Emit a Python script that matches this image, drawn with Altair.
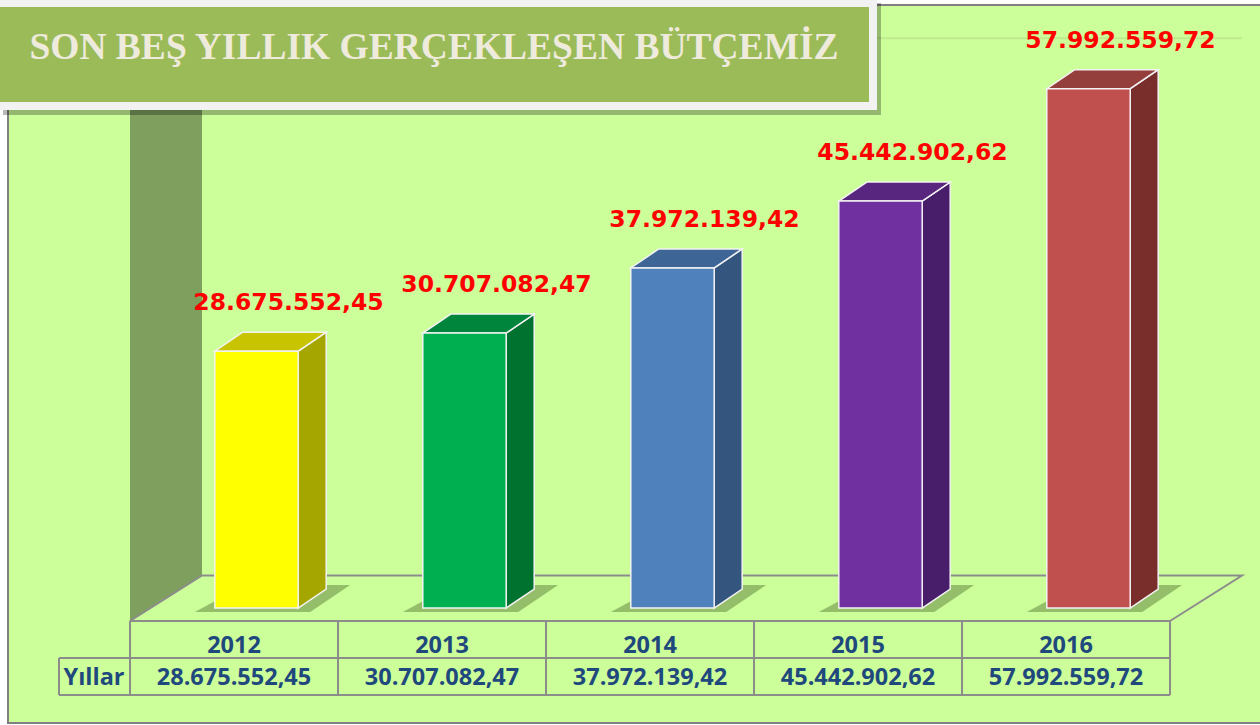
import altair as alt
import pandas as pd

# ---------------- data ----------------
YEARS = ["2012", "2013", "2014", "2015", "2016"]
VALUES = [28675552.45, 30707082.47, 37972139.42, 45442902.62, 57992559.72]
TITLE = "SON BEŞ YILLIK GERÇEKLEŞEN BÜTÇEMİZ"
ROW_LABEL = "Yıllar"
AXIS_MAX = 60000000

# ---------------- styles ----------------
FRONT_COLORS = ["#FFFF00", "#00B050", "#4F81BD", "#7030A0", "#C0504D"]
TOP_COLORS = ["#C8C400", "#00853C", "#3D6696", "#58267F", "#943F3C"]
SIDE_COLORS = ["#A6A600", "#00722F", "#34557E", "#481E6A", "#7A2E2C"]
BG = "#CCFF99"
WALL = "#7F9F5F"
LINE = "#8C8C8C"
TABLE_TEXT = "#1F497D"

PX_PER_COL = 208.0
PX_PER_M = 8.955
BASE_PX = 608


def du(px):
    return px / PX_PER_COL


def dv(px):
    return px / PX_PER_M * 1e6


def ypx(py):
    # value that the y scale puts at pixel row py
    return dv(BASE_PX - py)


def tr(v):
    s = f"{v:,.2f}"
    return s.replace(",", "X").replace(".", ",").replace("X", ".")


XS = alt.Scale(domain=[0, 5], range=[130, 1170], nice=False, zero=False)
YS = alt.Scale(domain=[0, AXIS_MAX], range=[BASE_PX, BASE_PX - 60 * PX_PER_M], nice=False, zero=False)

BAR_C = du(126.5)
BAR_HW = du(41.7)
DX = du(28)
DY = dv(19)
FLOOR_DX = du(72)
FLOOR_FRONT = ypx(621)
FLOOR_BACK = ypx(575.5)

bars = pd.DataFrame({
    "year": YEARS,
    "value": VALUES,
    "i": range(len(YEARS)),
})
bars["xc"] = bars["i"] + BAR_C
bars["xl"] = bars["xc"] - BAR_HW
bars["xr"] = bars["xc"] + BAR_HW
bars["zero"] = 0.0
bars["label"] = [tr(v) for v in VALUES]
bars["tc"] = bars["i"] + 0.5
bars["yr_y"] = ypx(653)
bars["val_y"] = ypx(685)

top_rows, side_rows, shadow_rows = [], [], []
for _, r in bars.iterrows():
    top_rows.append({"year": r.year, "y": r.value, "x": r.xl, "x2": r.xr})
    top_rows.append({"year": r.year, "y": r.value + DY, "x": r.xl + DX, "x2": r.xr + DX})
    side_rows.append({"year": r.year, "x": r.xr, "y": r.value, "y2": 0.0})
    side_rows.append({"year": r.year, "x": r.xr + DX, "y": r.value + DY, "y2": DY})
    shadow_rows.append({"year": r.year, "y": -dv(4), "x": r.xl - du(20), "x2": r.xr + du(12)})
    shadow_rows.append({"year": r.year, "y": dv(23), "x": r.xl + du(30), "x2": r.xr + du(52)})
top_df = pd.DataFrame(top_rows)
side_df = pd.DataFrame(side_rows)
shadow_df = pd.DataFrame(shadow_rows)


def X(f):
    return alt.X(f, scale=XS, axis=None)


def Y(f, **kw):
    return alt.Y(f, scale=YS, axis=None, **kw)


# ---------------- layers ----------------
one = pd.DataFrame({"a": [0]})
frame = alt.Chart(one).mark_rect(
    fill=BG, stroke="#808080", strokeWidth=2
).encode(x=alt.value(8), x2=alt.value(1275), y=alt.value(5), y2=alt.value(723))

grid_df = pd.DataFrame({"x": [FLOOR_DX], "x2": [5 + FLOOR_DX], "y": [AXIS_MAX + FLOOR_BACK]})
grid = alt.Chart(grid_df).mark_rule(color="#BFEA8F", strokeWidth=2).encode(
    x=X("x:Q"), x2="x2:Q", y=Y("y:Q"),
)

wall_df = pd.DataFrame({"x": [0.0, FLOOR_DX], "y": [ypx(-20), ypx(-20)], "y2": [FLOOR_FRONT, FLOOR_BACK]})
wall = alt.Chart(wall_df).mark_area(color=WALL, opacity=1).encode(
    x=X("x:Q"), y=Y("y:Q", stack=None), y2="y2:Q",
)

floor_df = pd.DataFrame({
    "x": [0.0, FLOOR_DX, 5 + FLOOR_DX, 5.0],
    "y": [FLOOR_FRONT, FLOOR_BACK, FLOOR_BACK, FLOOR_FRONT],
    "o": [0, 1, 2, 3],
})
floor = alt.Chart(floor_df).mark_line(color=LINE, strokeWidth=2).encode(
    x=X("x:Q"), y=Y("y:Q"), order="o:Q",
)

shadow = alt.Chart(shadow_df).mark_area(orient="horizontal", color="#4F6E30", opacity=0.45).encode(
    y=Y("y:Q"),
    x=alt.X("x:Q", scale=XS, axis=None, stack=None),
    x2="x2:Q",
    detail="year:N",
)

side = alt.Chart(side_df).mark_area(stroke="#F2F2F2", strokeWidth=1.5, opacity=1).encode(
    x=X("x:Q"),
    y=Y("y:Q", stack=None),
    y2="y2:Q",
    fill=alt.Fill("year:N", scale=alt.Scale(domain=YEARS, range=SIDE_COLORS), legend=None),
)

top = alt.Chart(top_df).mark_area(orient="horizontal", stroke="#F2F2F2", strokeWidth=1.5, opacity=1).encode(
    y=Y("y:Q"),
    x=alt.X("x:Q", scale=XS, axis=None, stack=None),
    x2="x2:Q",
    fill=alt.Fill("year:N", scale=alt.Scale(domain=YEARS, range=TOP_COLORS), legend=None),
)

front = alt.Chart(bars).mark_rect(stroke="#F2F2F2", strokeWidth=1.5).encode(
    x=X("xl:Q"),
    x2="xr:Q",
    y=Y("value:Q"),
    y2="zero:Q",
    fill=alt.Fill("year:N", scale=alt.Scale(domain=YEARS, range=FRONT_COLORS), legend=None),
)

labels = alt.Chart(bars).mark_text(
    font="DejaVu Sans", fontWeight="bold", fontSize=23.5, color="#FF0000",
    align="center", baseline="alphabetic", dx=32, dy=-41,
).encode(x=X("xc:Q"), y=Y("value:Q"), text="label:N")

# table lines
left_cell = du(59 - 130)
vl_df = pd.DataFrame({
    "x": [0, 1, 2, 3, 4, 5, left_cell],
    "y": [ypx(621)] * 6 + [ypx(658)],
    "y2": [ypx(695)] * 7,
})
vlines = alt.Chart(vl_df).mark_rule(color=LINE, strokeWidth=2).encode(
    x=X("x:Q"), y=Y("y:Q"), y2="y2:Q",
)
hl_df = pd.DataFrame({
    "x": [0.0, left_cell, left_cell],
    "x2": [5.0, 5.0, 5.0],
    "y": [ypx(621), ypx(658), ypx(695)],
})
hlines = alt.Chart(hl_df).mark_rule(color=LINE, strokeWidth=2).encode(
    x=X("x:Q"), x2="x2:Q", y=Y("y:Q"),
)

tbl_font = dict(font="Open Sans", fontWeight="bold", fontSize=23.5, color=TABLE_TEXT,
                align="center", baseline="alphabetic")
year_text = alt.Chart(bars).mark_text(**tbl_font).encode(
    x=X("tc:Q"), y=Y("yr_y:Q"), text="year:N"
)
val_text = alt.Chart(bars).mark_text(**tbl_font).encode(
    x=X("tc:Q"), y=Y("val_y:Q"), text="label:N"
)
row_df = pd.DataFrame({"t": [ROW_LABEL], "x": [du(94 - 130)], "y": [ypx(685)]})
row_text = alt.Chart(row_df).mark_text(**tbl_font).encode(
    x=X("x:Q"), y=Y("y:Q"), text="t:N"
)

# title box
t_shadow = alt.Chart(one).mark_rect(fill="#000000", opacity=0.28).encode(
    x=alt.value(3), x2=alt.value(881), y=alt.value(3), y2=alt.value(115)
)
t_border = alt.Chart(one).mark_rect(fill="#F2F2F2").encode(
    x=alt.value(0), x2=alt.value(877), y=alt.value(0), y2=alt.value(110)
)
t_box = alt.Chart(one).mark_rect(fill="#9BBB59").encode(
    x=alt.value(0), x2=alt.value(869), y=alt.value(7), y2=alt.value(102)
)
t_text = alt.Chart(pd.DataFrame({"t": [TITLE]})).mark_text(
    font="Liberation Serif", fontWeight="bold", fontSize=37.5, color="#EEEADC",
    align="center", baseline="alphabetic",
).encode(x=alt.value(434), y=alt.value(59), text="t:N")

chart = alt.layer(
    frame, grid, wall, floor, shadow, side, top, front, labels,
    vlines, hlines, year_text, val_text, row_text,
    t_shadow, t_border, t_box, t_text,
).resolve_scale(fill="independent").properties(
    width=1260, height=725, padding=0,
    autosize=alt.AutoSizeParams(type="none"),
    background="#FFFFFF",
).configure_view(stroke=None)

chart.save("out.html", embed_options={"renderer": "svg", "actions": False})
